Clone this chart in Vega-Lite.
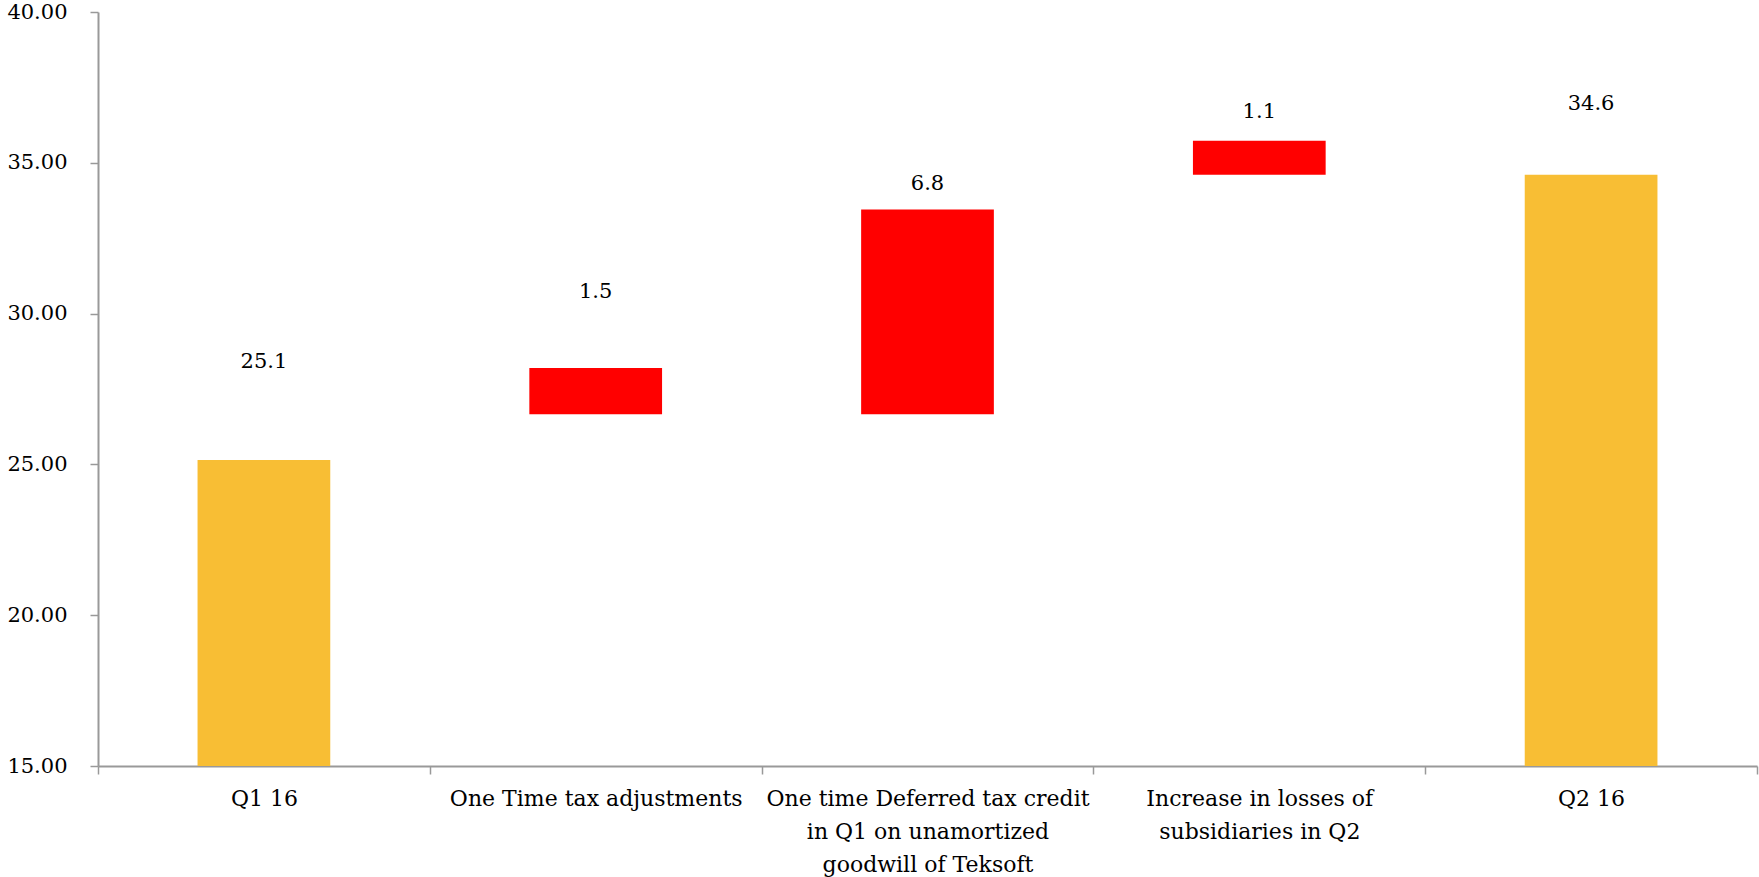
{
  "$schema": "https://vega.github.io/schema/vega-lite/v6.json",
  "autosize": "none",
  "width": 1659,
  "height": 754,
  "padding": {"left": 98, "top": 12, "right": 2, "bottom": 111},
  "background": "white",
  "config": {"view": {"stroke": null}, "font": "DejaVu Serif"},
  "data": {"values": [
    {"category": "Q1 16", "start": 15, "end": 25.15, "label": "25.1", "label_at": 28.4, "kind": "total"},
    {"category": "One Time tax adjustments", "start": 26.66, "end": 28.2, "label": "1.5", "label_at": 30.7, "kind": "change"},
    {"category": "One time Deferred tax credit|in Q1 on unamortized|goodwill of Teksoft", "start": 26.66, "end": 33.45, "label": "6.8", "label_at": 34.3, "kind": "change"},
    {"category": "Increase in losses of|subsidiaries in Q2", "start": 34.6, "end": 35.73, "label": "1.1", "label_at": 36.7, "kind": "change"},
    {"category": "Q2 16", "start": 15, "end": 34.6, "label": "34.6", "label_at": 36.95, "kind": "total"}
  ]},
  "encoding": {
    "x": {
      "field": "category", "type": "nominal", "sort": null,
      "scale": {"paddingInner": 0, "paddingOuter": 0},
      "axis": {
        "title": null, "labelAngle": 0, "labelExpr": "split(datum.label, '|')",
        "labelFont": "DejaVu Serif", "labelFontSize": 22, "labelColor": "black",
        "labelLineHeight": 33, "labelPadding": 14, "labelBaseline": "top", "labelLimit": 0,
        "tickBand": "extent", "tickSize": 8, "tickColor": "#999999",
        "domainColor": "#999999", "domainWidth": 2, "tickWidth": 1.5, "grid": false
      }
    }
  },
  "layer": [
    {
      "mark": {"type": "bar", "width": {"band": 0.4}},
      "encoding": {
        "y": {
          "field": "start", "type": "quantitative",
          "scale": {"domain": [15, 40], "nice": false, "zero": false},
          "axis": {
            "title": null, "values": [15, 20, 25, 30, 35, 40], "format": ".2f",
            "labelFont": "DejaVu Serif", "labelFontSize": 21, "labelColor": "black",
            "labelPadding": 23, "tickSize": 8, "tickColor": "#999999",
            "domainColor": "#999999", "domainWidth": 2, "tickWidth": 1.5, "grid": false
          }
        },
        "y2": {"field": "end"},
        "color": {
          "field": "kind", "type": "nominal", "legend": null,
          "scale": {"domain": ["total", "change"], "range": ["#F8BE34", "#FF0000"]}
        }
      }
    },
    {
      "mark": {"type": "text", "font": "DejaVu Serif", "fontSize": 21, "color": "black", "baseline": "middle"},
      "encoding": {
        "y": {"field": "label_at", "type": "quantitative"},
        "text": {"field": "label"}
      }
    }
  ]
}
